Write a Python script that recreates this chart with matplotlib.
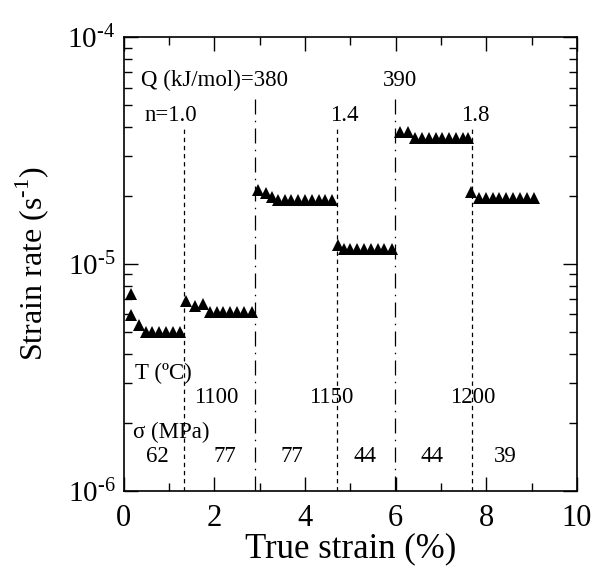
import numpy as np
import matplotlib
matplotlib.use('Agg')
import matplotlib.pyplot as plt
from matplotlib.ticker import LogLocator, MultipleLocator, NullFormatter

plt.rcParams['font.family'] = ['Liberation Serif', 'DejaVu Serif']
plt.rcParams['mathtext.fontset'] = 'custom'
plt.rcParams['mathtext.rm'] = 'Liberation Serif'

# strain (%) and strain rate (1/s)
strain = [0.15, 0.15, 0.33, 0.48, 0.63, 0.78, 0.93, 1.08, 1.23,
          1.38, 1.57, 1.75, 1.90, 2.05, 2.20, 2.35, 2.50, 2.65, 2.82,
          2.97, 3.13, 3.26, 3.40, 3.55, 3.70, 3.85, 4.00, 4.15, 4.30, 4.45, 4.60,
          4.72, 4.85, 5.00, 5.15, 5.30, 5.45, 5.60, 5.75, 5.92,
          6.09, 6.27, 6.43, 6.58, 6.73, 6.88, 7.03, 7.18, 7.33, 7.48, 7.60,
          7.67, 7.84, 7.99, 8.14, 8.29, 8.44, 8.59, 8.74, 8.89, 9.05]
rate = [7.4e-6, 5.95e-6, 5.4e-6, 5.0e-6, 5.0e-6, 5.0e-6, 5.0e-6, 5.0e-6, 5.0e-6,
        6.9e-6, 6.55e-6, 6.65e-6, 6.15e-6, 6.15e-6, 6.15e-6, 6.15e-6, 6.15e-6, 6.15e-6, 6.15e-6,
        2.12e-5, 2.05e-5, 1.98e-5, 1.91e-5, 1.91e-5, 1.91e-5, 1.91e-5, 1.91e-5, 1.91e-5, 1.91e-5, 1.91e-5, 1.91e-5,
        1.21e-5, 1.17e-5, 1.17e-5, 1.17e-5, 1.17e-5, 1.17e-5, 1.17e-5, 1.17e-5, 1.17e-5,
        3.83e-5, 3.83e-5, 3.58e-5, 3.58e-5, 3.58e-5, 3.58e-5, 3.58e-5, 3.58e-5, 3.58e-5, 3.58e-5, 3.58e-5,
        2.08e-5, 1.95e-5, 1.95e-5, 1.95e-5, 1.95e-5, 1.95e-5, 1.95e-5, 1.95e-5, 1.95e-5, 1.95e-5]

# change points
stress_change = [1.32, 4.70, 7.69]   # dashed
temp_change = [2.89, 5.98]           # dash-dot

q_labels = ['Q (kJ/mol)=380', '390']
q_x = [0.37, 6.09]
n_labels = ['n=1.0', '1.4', '1.8']
n_x = [1.03, 4.86, 7.75]
t_labels = ['1100', '1150', '1200']
t_x = [2.04, 4.57, 7.69]
s_labels = ['62', '77', '77', '44', '44', '39']
s_x = [0.75, 2.23, 3.71, 5.32, 6.80, 8.41]

fig = plt.figure(figsize=(6.01, 5.72), dpi=100)
ax = fig.add_axes([0.206, 0.1416, 0.754, 0.7934])

ax.plot(strain, rate, '^', color='black', markersize=9, markeredgewidth=0)

for x in stress_change:
    ax.plot([x, x], [1e-6, 4.0e-5], color='black', lw=0.9, ls=(0, (3.5, 3)))
for x in temp_change:
    ax.plot([x, x], [1e-6, 5.45e-5], color='black', lw=0.9, ls=(0, (12, 5, 1.2, 5)))

fs = 16.5
ax.text(q_x[0], 6.45e-5, q_labels[0], fontsize=fs, ha='left', va='center')
ax.text(q_x[1], 6.45e-5, q_labels[1], fontsize=fs, ha='center', va='center')
for lab, x in zip(n_labels, n_x):
    ax.text(x, 4.53e-5, lab, fontsize=fs, ha='center', va='center')
ax.text(0.24, 3.3e-6, 'T (ºC)', fontsize=fs, ha='left', va='center')
for lab, x in zip(t_labels, t_x):
    ax.text(x, 2.57e-6, lab, fontsize=fs, ha='center', va='center')
ax.text(0.2, 1.82e-6, 'σ (MPa)', fontsize=fs, ha='left', va='center')
for lab, x in zip(s_labels, s_x):
    ax.text(x, 1.42e-6, lab, fontsize=fs, ha='center', va='center')

ax.set_yscale('log')
ax.set_xlim(0, 10)
ax.set_ylim(1e-6, 1e-4)
ax.set_xticks([0, 2, 4, 6, 8, 10])
ax.xaxis.set_minor_locator(MultipleLocator(1))
ax.set_yticks([1e-6, 1e-5, 1e-4])
ax.set_yticklabels([r'$\mathregular{10^{\text{-}6}}$', r'$\mathregular{10^{\text{-}5}}$',
                    r'$\mathregular{10^{\text{-}4}}$'])
ax.yaxis.set_minor_locator(LogLocator(base=10, subs=np.arange(2, 10)))
ax.yaxis.set_minor_formatter(NullFormatter())

ax.tick_params(which='both', direction='in', top=True, right=True, width=1)
ax.tick_params(which='major', length=10)
ax.tick_params(which='minor', length=6)
ax.tick_params(axis='x', which='major', labelsize=22, pad=9)
ax.tick_params(axis='y', which='major', labelsize=21, pad=6)
for s in ax.spines.values():
    s.set_linewidth(1.2)

ax.set_xlabel('True strain (%)', fontsize=25, labelpad=0)
ax.set_ylabel('Strain rate (s$^{\\text{-}1}$)', fontsize=23, labelpad=12)

fig.savefig('out.png', dpi=100)
